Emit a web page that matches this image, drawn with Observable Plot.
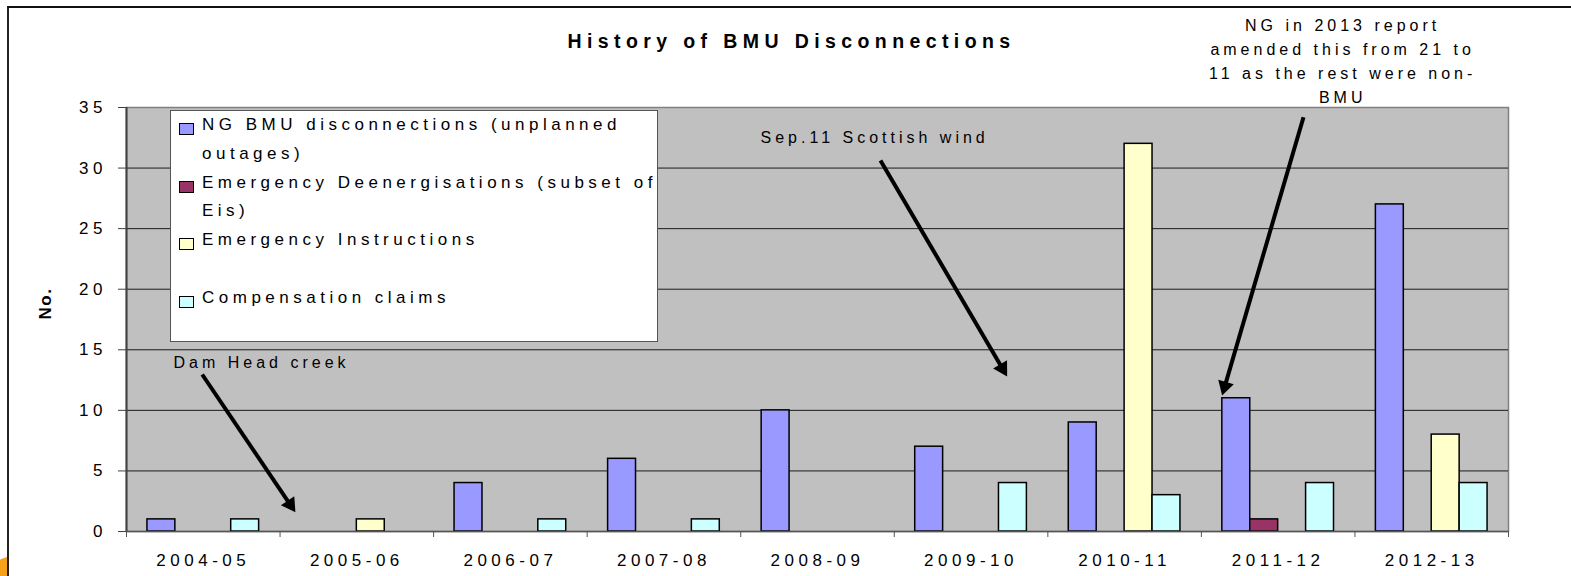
<!DOCTYPE html>
<html>
<head>
<meta charset="utf-8">
<script src="https://cdn.jsdelivr.net/npm/d3@7"></script>
<script src="https://cdn.jsdelivr.net/npm/@observablehq/plot@0.6"></script>
<style>
  html, body { margin: 0; padding: 0; overflow: hidden; background: #fff; }
  #wrap { position: relative; width: 1571px; height: 576px; overflow: hidden; background: #fff;
          font-family: 'Liberation Sans', Arial, sans-serif; }
  #orange { position: absolute; left: -25px; top: 555px; width: 90px; height: 90px; border-radius: 50%; background: #f7a11a; }
  #area { position: absolute; left: 7px; top: 6px; width: 1570px; height: 580px; background: #fff;
          border-top: 2px solid #111; border-left: 2px solid #222; }
  #title { position: absolute; left: 0; top: 29px; width: 1583px; text-align: center; font-weight: bold;
           font-size: 19.5px; line-height: 24px; letter-spacing: 5.4px; color: #000; white-space: pre; }
  #chart { position: absolute; left: 0; top: 0; width: 1571px; height: 576px; }
  #legend { position: absolute; left: 170px; top: 110px; width: 488px; height: 232px; box-sizing: border-box;
            background: #fff; border: 1.5px solid #555; }
  .entry { position: relative; height: 57.5px; }
  .sw { position: absolute; left: 8px; top: 12px; width: 15px; height: 12px; box-sizing: border-box; border: 1.5px solid #000; }
  .lab { position: absolute; left: 31px; top: 0; font-size: 17px; line-height: 28.5px; letter-spacing: 4.5px;
         white-space: pre; color: #000; }
</style>
</head>
<body>
<div id="wrap">
  <div id="orange"></div>
  <div id="area"></div>
  <div id="title"></div>
  <div id="chart"></div>
  <div id="legend"></div>
</div>
<script>
// ---- data ----
const chartTitle = "History of BMU Disconnections";
const categories = ["2004-05", "2005-06", "2006-07", "2007-08", "2008-09", "2009-10", "2010-11", "2011-12", "2012-13"];
const seriesNames = [
  "NG BMU disconnections (unplanned outages)",
  "Emergency Deenergisations (subset of Eis)",
  "Emergency Instructions",
  "Compensation claims"
];
const legendLabels = [
  "NG BMU disconnections (unplanned\noutages)",
  "Emergency Deenergisations (subset of\nEis)",
  "Emergency Instructions",
  "Compensation claims"
];
const seriesColors = ["#9999FF", "#993366", "#FFFFCC", "#CCFFFF"];
const ngBmuDisconnections = [1, 0, 4, 6, 10, 7, 9, 11, 27];
const emergencyDeenergisations = [0, 0, 0, 0, 0, 0, 0, 1, 0];
const emergencyInstructions = [0, 1, 0, 0, 0, 0, 32, 0, 8];
const compensationClaims = [1, 0, 1, 1, 0, 4, 3, 4, 4];
const yTicks = [0, 5, 10, 15, 20, 25, 30, 35];
const gridValues = [5, 10, 15, 20, 25, 30];
const yLabel = "No.";

// annotations (category-index units on x, value units on y)
const leftNotes = [
  {x: 0.306, y: 13.95, text: "Dam Head creek"},
  {x: 4.129, y: 32.5, text: "Sep.11 Scottish wind"}
];
const centerNotes = [
  {x: 7.92, y: 39.0, text: "NG in 2013 report\namended this from 21 to\n11 as the rest were non-\nBMU"}
];
const arrows = [
  {x1: 0.493, y1: 12.96, x2: 1.10, y2: 1.59},
  {x1: 4.910, y1: 30.63, x2: 5.735, y2: 12.80},
  {x1: 7.665, y1: 34.20, x2: 7.135, y2: 11.23}
];

// ---- layout ----
const W = 1571, H = 576, mL = 126, mR = 63, mT = 107, mB = 45;
const seriesValues = [ngBmuDisconnections, emergencyDeenergisations, emergencyInstructions, compensationClaims];
const rows = [];
seriesValues.forEach((vals, s) => vals.forEach((v, i) => {
  if (v > 0) rows.push({cat: categories[i], i, s, series: seriesNames[s], v});
}));
const slot = 1 / 5.5, outer = 0.75; // Excel gap width 150%

const sx = Plot.scale({x: {domain: [0, categories.length], range: [mL, W - mR]}});
const sy = Plot.scale({y: {domain: [0, 35], range: [H - mB, mT]}});
const arrowRows = arrows.map(a => {
  const px1 = sx.apply(a.x1), py1 = sy.apply(a.y1), px2 = sx.apply(a.x2), py2 = sy.apply(a.y2);
  const len = Math.hypot(px2 - px1, py2 - py1);
  const ux = (px2 - px1) / len, uy = (py2 - py1) / len;
  const ang = Math.atan2(py2 - py1, px2 - px1) * 180 / Math.PI;
  return {
    ...a,
    lx: sx.invert(px2 - 9 * ux), ly: sy.invert(py2 - 9 * uy),
    hx: sx.invert(px2 - 9.3 * ux), hy: sy.invert(py2 - 9.3 * uy),
    rot: ang + 90
  };
});

document.getElementById("title").textContent = chartTitle;

const plot = Plot.plot({
  width: W, height: H,
  marginLeft: mL, marginRight: mR, marginTop: mT, marginBottom: mB,
  x: {domain: [0, categories.length]},
  y: {domain: [0, 35]},
  color: {domain: seriesNames, range: seriesColors},
  style: {background: "transparent", fontFamily: "'Liberation Sans', Arial, sans-serif",
          fontSize: "17px", letterSpacing: "4.5px", color: "#000"},
  marks: [
    Plot.frame({fill: "#c0c0c0", stroke: "#808080", strokeWidth: 1.5}),
    Plot.ruleY(gridValues, {stroke: "#1a1a1a", strokeWidth: 1}),
    Plot.rectY(rows, {
      x1: d => d.i + (outer + d.s) * slot,
      x2: d => d.i + (outer + d.s + 1) * slot,
      y: "v", fill: "series", stroke: "#000", strokeWidth: 1.5
    }),
    Plot.ruleX([0], {stroke: "#404040", strokeWidth: 2}),
    Plot.ruleY([0], {stroke: "#555", strokeWidth: 1.5}),
    Plot.axisY({ticks: yTicks, tickSize: 8, tickPadding: 11.5, stroke: "#404040", label: null, fontSize: 17}),
    Plot.axisX({ticks: d3.range(categories.length + 1), tickSize: 6, tickFormat: () => "", stroke: "#555", label: null}),
    Plot.axisX({ticks: categories.map((_, i) => i + 0.5), tickSize: 0, tickPadding: 22,
                tickFormat: v => categories[Math.round(v - 0.5)], label: null, fontSize: 17}),
    Plot.text([yLabel], {frameAnchor: "left", dx: -81, rotate: -90, fontWeight: "bold", fontSize: 17}),
    Plot.text(leftNotes, {x: "x", y: "y", text: "text", textAnchor: "start", fontSize: 16, fill: "#000"}),
    Plot.text(centerNotes, {x: "x", y: "y", text: "text", textAnchor: "middle", fontSize: 16,
                            lineHeight: 1.5, lineAnchor: "middle", fill: "#000"}),
    Plot.link(arrowRows, {x1: "x1", y1: "y1", x2: "lx", y2: "ly", stroke: "#000", strokeWidth: 4}),
    Plot.dot(arrowRows, {x: "hx", y: "hy", symbol: "triangle", r: 6, fill: "#000", stroke: null, rotate: "rot"})
  ]
});
// letter spacing tweaks for the y label and annotations
plot.querySelectorAll("text").forEach(t => {
  const s = t.textContent;
  if (s === yLabel) t.style.letterSpacing = "1.5px";
  else if (leftNotes.some(n => n.text === s) || centerNotes.some(n => n.text.replace(/\n/g, "") === s)) t.style.letterSpacing = "4px";
});
document.getElementById("chart").appendChild(plot);

// legend
const legend = document.getElementById("legend");
legendLabels.forEach((lab, s) => {
  const e = document.createElement("div");
  e.className = "entry";
  const sw = document.createElement("div");
  sw.className = "sw";
  sw.style.background = seriesColors[s];
  const t = document.createElement("div");
  t.className = "lab";
  t.textContent = lab;
  e.appendChild(sw); e.appendChild(t);
  legend.appendChild(e);
});
</script>
</body>
</html>
